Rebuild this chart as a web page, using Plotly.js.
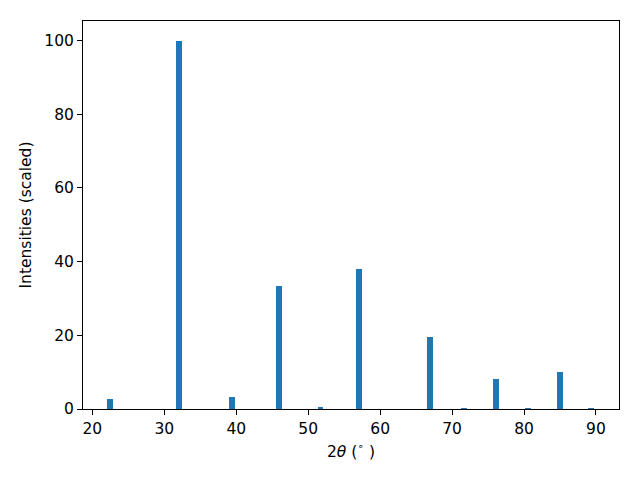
<!DOCTYPE html>
<html>
<head>
<meta charset="utf-8">
<script src="https://cdn.plot.ly/plotly-3.0.1.min.js"></script>
<style>html,body{margin:0;padding:0;background:#fff;}#chart{width:640px;height:480px;}</style>
</head>
<body>
<div id="chart"></div>
<script>
const twoTheta = [22.43, 32.03, 39.46, 45.9, 51.7, 57.05, 66.92, 71.65, 76.1, 80.55, 85.0, 89.3];
const intensity = [2.7, 100, 3.3, 33.3, 0.6, 38.0, 19.5, 0.3, 8.1, 0.3, 10.0, 0.3];
const xTicks = [20, 30, 40, 50, 60, 70, 80, 90];
const yTicks = [0, 20, 40, 60, 80, 100];

const trace = {
  type: 'bar',
  x: twoTheta,
  y: intensity,
  width: 0.8,
  marker: {color: '#1f77b4', line: {width: 0}},
  hoverinfo: 'x+y'
};

const axisCommon = {
  showgrid: false,
  zeroline: false,
  showline: true,
  linecolor: '#000',
  linewidth: 1,
  mirror: true,
  ticks: 'outside',
  ticklen: 5,
  tickwidth: 1,
  tickcolor: '#000',
  tickfont: {family: 'DejaVu Sans', size: 15.5, color: '#000'}
};

const layout = {
  width: 640,
  height: 480,
  margin: {l: 83, r: 21, t: 21, b: 71},
  paper_bgcolor: '#fff',
  plot_bgcolor: '#fff',
  showlegend: false,
  bargap: 0,
  xaxis: Object.assign({}, axisCommon, {
    range: [18.7, 93.2],
    tickmode: 'array',
    tickvals: xTicks,
    ticktext: xTicks.map(String),
    title: {text: '2<i>θ</i> (<sup>∘</sup> )', font: {family: 'DejaVu Sans', size: 15.5, color: '#000'}, standoff: 9}
  }),
  yaxis: Object.assign({}, axisCommon, {
    range: [0, 105.3],
    tickmode: 'array',
    tickvals: yTicks,
    ticktext: yTicks.map(String),
    title: {text: 'Intensities (scaled)', font: {family: 'DejaVu Sans', size: 15.5, color: '#000'}, standoff: 8}
  })
};

Plotly.newPlot('chart', [trace], layout, {displayModeBar: false, staticPlot: true});
</script>
</body>
</html>
